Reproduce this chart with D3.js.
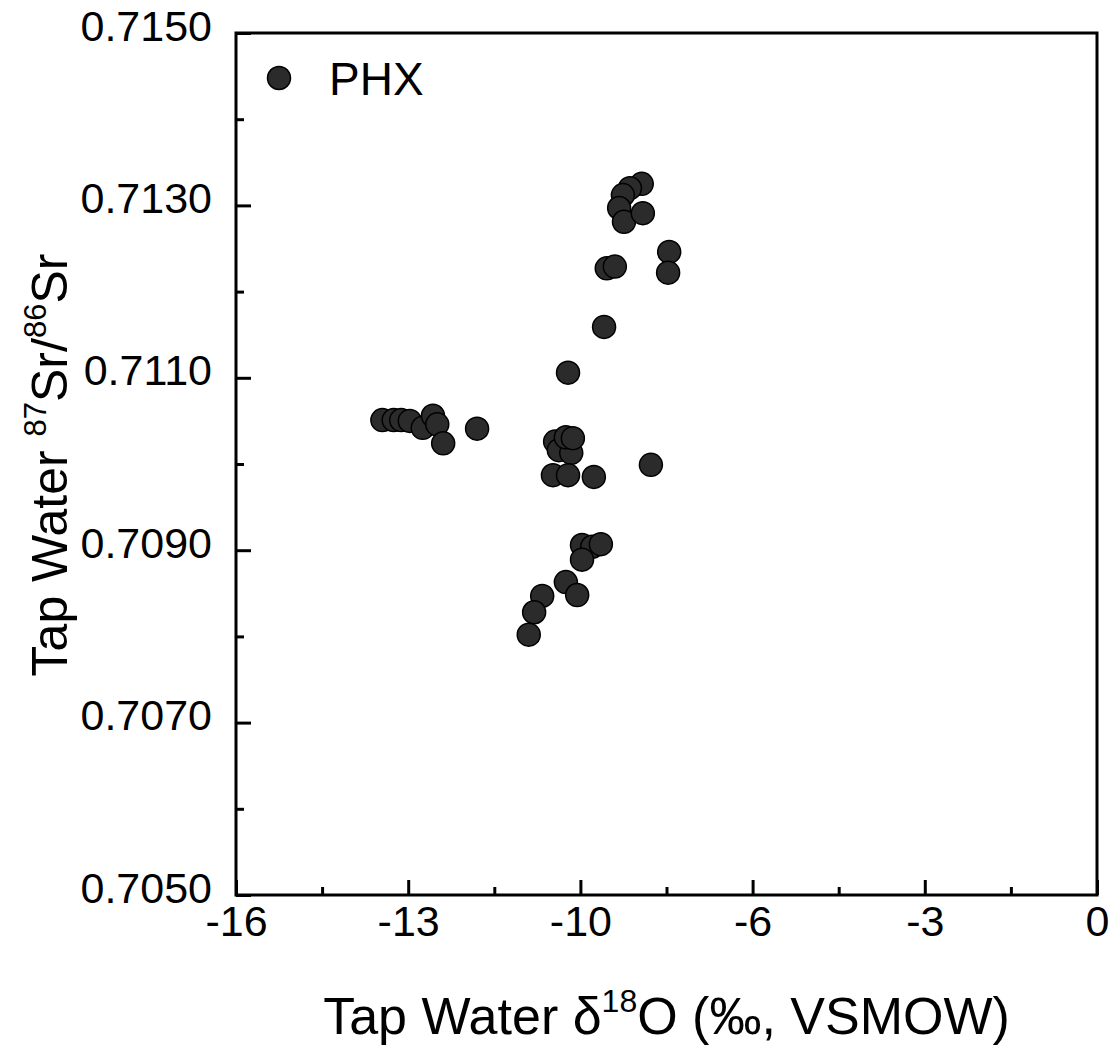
<!DOCTYPE html>
<html>
<head>
<meta charset="utf-8">
<script src="https://cdn.jsdelivr.net/npm/d3@7"></script>
<style>
  html, body { margin: 0; padding: 0; background: #fff; }
  svg { display: block; }
  text { font-family: "Liberation Sans", Arial, Helvetica, sans-serif; fill: #000; }
</style>
</head>
<body>
<svg id="chart" width="1114" height="1049"></svg>
<script>
// ---- data ----
const seriesName = "PHX";
const d18O = [
  -13.28, -13.07, -12.93, -12.77, -12.53, -12.34, -12.26, -12.15, -11.52,
  -9.83, -10.07, -10.00, -9.77, -9.87, -9.74, -10.11, -9.83, -9.35, -8.29,
  -9.57, -9.38, -9.22, -9.57, -9.87, -9.66, -10.31, -10.46, -10.56,
  -8.46, -8.68, -8.81, -8.88, -8.79, -8.44, -9.11, -8.96, -7.95, -7.97, -9.16
];
const sr8786 = [
  0.71051, 0.71051, 0.71051, 0.71050, 0.71042, 0.71056, 0.71046, 0.71024, 0.71041,
  0.71106, 0.71026, 0.71016, 0.71013, 0.71031, 0.71030, 0.70987, 0.70987, 0.70985, 0.70999,
  0.70906, 0.70904, 0.70907, 0.70889, 0.70863, 0.70848, 0.70847, 0.70828, 0.70802,
  0.71325, 0.71320, 0.71312, 0.71297, 0.71281, 0.71291, 0.71227, 0.71229, 0.71246, 0.71222, 0.71159
];
const xTickValues = [-16, -12.8, -9.6, -6.4, -3.2, 0];
const xTickLabels = ["-16", "-13", "-10", "-6", "-3", "0"];
const xMinorValues = [-14.4, -11.2, -8.0, -4.8, -1.6];
const yTickValues = [0.705, 0.707, 0.709, 0.711, 0.713, 0.715];
const yTickLabels = ["0.7050", "0.7070", "0.7090", "0.7110", "0.7130", "0.7150"];
const yMinorValues = [0.706, 0.708, 0.710, 0.712, 0.714];

// ---- layout ----
const svg = d3.select("#chart");
const L = 236, R = 1097, T = 33, B = 895;
const x = d3.scaleLinear().domain([-16, 0]).range([L, R]);
const y = d3.scaleLinear().domain([0.705, 0.715]).range([B, T]);
const tickFont = 43;

// x axis (ticks inward)
const gx = svg.append("g").attr("transform", `translate(0,${B})`)
  .call(d3.axisBottom(x).tickValues(xTickValues).tickSize(-15)
    .tickFormat((d, i) => xTickLabels[i]));
gx.select(".domain").remove();
gx.selectAll(".tick line").attr("stroke", "#000").attr("stroke-width", 3);
gx.selectAll(".tick text").attr("y", 41).attr("dy", null)
  .style("font-size", tickFont + "px")
  .style("font-family", '"Liberation Sans", Arial, sans-serif');
const gxm = svg.append("g").attr("transform", `translate(0,${B})`)
  .call(d3.axisBottom(x).tickValues(xMinorValues).tickSize(-8).tickFormat(""));
gxm.select(".domain").remove();
gxm.selectAll(".tick line").attr("stroke", "#000").attr("stroke-width", 3);

// y axis (ticks inward)
const gy = svg.append("g").attr("transform", `translate(${L},0)`)
  .call(d3.axisLeft(y).tickValues(yTickValues).tickSize(-15)
    .tickFormat((d, i) => yTickLabels[i]));
gy.select(".domain").remove();
gy.selectAll(".tick line").attr("stroke", "#000").attr("stroke-width", 3);
gy.selectAll(".tick text").attr("x", -24).attr("dy", 7).attr("y", 0)
  .style("font-size", tickFont + "px")
  .style("font-family", '"Liberation Sans", Arial, sans-serif');
const gym = svg.append("g").attr("transform", `translate(${L},0)`)
  .call(d3.axisLeft(y).tickValues(yMinorValues).tickSize(-8).tickFormat(""));
gym.select(".domain").remove();
gym.selectAll(".tick line").attr("stroke", "#000").attr("stroke-width", 3);

// frame
svg.append("rect").attr("x", L).attr("y", T).attr("width", R - L).attr("height", B - T)
  .attr("fill", "none").attr("stroke", "#000").attr("stroke-width", 3);

// points
const pts = d18O.map((v, i) => ({ x: v, y: sr8786[i] }));
svg.append("g").selectAll("circle").data(pts).join("circle")
  .attr("cx", d => x(d.x)).attr("cy", d => y(d.y)).attr("r", 11.5)
  .attr("fill", "#2b2b2b").attr("stroke", "#000").attr("stroke-width", 1.5);

// legend
svg.append("circle").attr("cx", 279).attr("cy", 78).attr("r", 11.5)
  .attr("fill", "#2b2b2b").attr("stroke", "#000").attr("stroke-width", 1.5);
svg.append("text").attr("x", 329).attr("y", 95).style("font-size", "46px").text(seriesName);

// x axis title
const xt = svg.append("text").attr("x", (L + R) / 2).attr("y", 1034)
  .attr("text-anchor", "middle").style("font-size", "52px");
xt.append("tspan").text("Tap Water \u03B4");
xt.append("tspan").attr("dy", -22).style("font-size", "32px").text("18");
xt.append("tspan").attr("dy", 22).text("O (\u2030, VSMOW)");

// y axis title
const yt = svg.append("text")
  .attr("transform", `translate(67,${(T + B) / 2 + 1}) rotate(-90)`)
  .attr("text-anchor", "middle").style("font-size", "50px");
yt.append("tspan").text("Tap Water ");
yt.append("tspan").attr("dy", -21).style("font-size", "31px").text("87");
yt.append("tspan").attr("dy", 21).text("Sr/");
yt.append("tspan").attr("dy", -21).style("font-size", "31px").text("86");
yt.append("tspan").attr("dy", 21).text("Sr");
</script>
</body>
</html>
